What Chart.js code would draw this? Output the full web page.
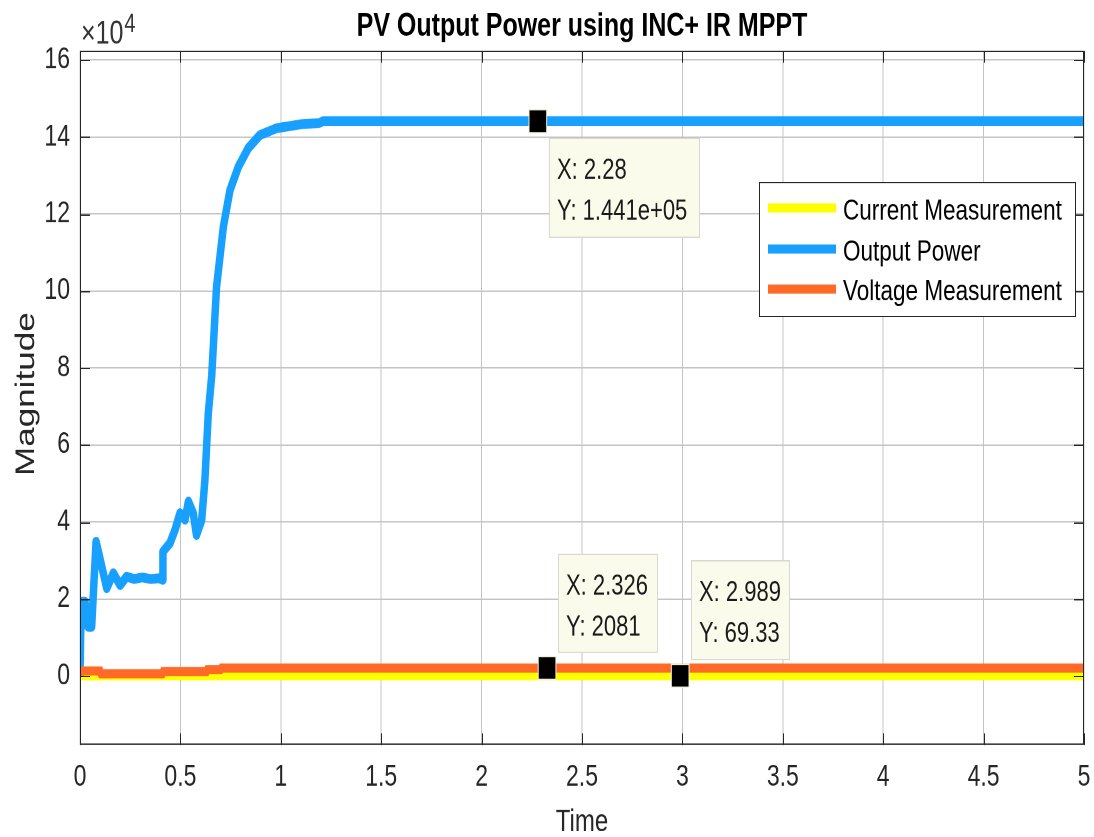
<!DOCTYPE html>
<html><head><meta charset="utf-8">
<script src="https://cdn.jsdelivr.net/npm/chart.js@4/dist/chart.umd.min.js"></script>
<style>
html,body{margin:0;padding:0;background:#fff;overflow:hidden;width:1094px;height:837px;}
#wrap{position:absolute;left:0;top:0;width:1094px;height:644px;transform:scaleY(1.29969);transform-origin:0 0;}
canvas{display:block;}
</style></head><body>
<div id="wrap"><canvas id="c" width="1094" height="644" style="width:1094px;height:644px"></canvas></div>
<script>
// ---- data ----
const chartTitle = 'PV Output Power using INC+ IR MPPT';
const xAxisTitle = 'Time';
const yAxisTitle = 'Magnitude';
const yExponentBase = '\u00d710';
const yExponent = '4';
const xTicks = [0, 0.5, 1, 1.5, 2, 2.5, 3, 3.5, 4, 4.5, 5];
const yTicks = [0, 20000, 40000, 60000, 80000, 100000, 120000, 140000, 160000];
const yMin = -17920, yMax = 162340;
const seriesNames = ['Current Measurement', 'Output Power', 'Voltage Measurement'];
const seriesColors = ['#ffff00', '#18a0ff', '#ff6a28'];

const powerT = [0, 0.006, 0.025, 0.04, 0.058, 0.08, 0.133, 0.166, 0.2, 0.232, 0.27, 0.31, 0.35, 0.395, 0.41, 0.413, 0.448, 0.473, 0.498, 0.523, 0.54, 0.564, 0.58, 0.606, 0.622, 0.639, 0.656, 0.68, 0.714, 0.747, 0.789, 0.838, 0.896, 0.98, 1.11, 1.19, 1.21, 1.6, 2.0, 2.28, 2.5, 3.0, 3.5, 4.0, 4.5, 5.0];
const powerV = [0, 19300, 19300, 12800, 12800, 34900, 22800, 26700, 23600, 25800, 25200, 25600, 25200, 25400, 25000, 32300, 34500, 37900, 42300, 40600, 45300, 42300, 36600, 40500, 50900, 68300, 78000, 101100, 116700, 126200, 132300, 137100, 140500, 142300, 143400, 143600, 144100, 144100, 144100, 144100, 144100, 144100, 144100, 144100, 144100, 144100];

const voltT = [0, 0.008, 0.1, 0.105, 0.41, 0.415, 0.63, 0.635, 0.7, 0.705, 2.326, 5];
const voltV = [300, 1300, 1300, 600, 600, 1200, 1200, 1700, 1700, 2081, 2081, 2081];

const currT = [0, 0.1, 0.4, 0.7, 2.989, 5];
const currV = [20, 30, 40, 69.33, 69.33, 69.33];

const tipX = [2.28, 2.326, 2.989];
const tipY = [144100, 2081, 69.33];

// ---- helpers ----
const FONT = '"Liberation Sans", Arial, Helvetica, sans-serif';
const pts = (xs, ys) => xs.map((x, i) => ({x: x, y: ys[i]}));
function fmtY(v) {
  if (Math.abs(v) >= 1e5) return v.toExponential(3).replace(/e([+-])(\d)$/, 'e$10$2');
  return String(v);
}
const tipLayout = [
  {dx: 11.5, dy: 12.3, w: 150, h: 76},
  {dx: 10.7, dy: -87.7, w: 99, h: 75.4},
  {dx: 10.5, dy: -88.5, w: 98, h: 76}
];

const decor = {
  id: 'decor',
  afterDatasetsDraw(chart) {
    const ctx = chart.ctx, a = chart.chartArea, xs = chart.scales.x, ys = chart.scales.y;
    ctx.save();
    // axes box
    ctx.strokeStyle = '#262626'; ctx.lineWidth = 1;
    ctx.strokeRect(Math.round(a.left) + 0.5, Math.round(a.top) + 0.5, Math.round(a.right - a.left) - 1, Math.round(a.bottom - a.top) - 1);
    // inward ticks
    ctx.beginPath();
    xTicks.forEach(v => {
      const px = Math.round(xs.getPixelForValue(v)) + 0.5;
      ctx.moveTo(px, a.bottom); ctx.lineTo(px, a.bottom - 9);
      ctx.moveTo(px, a.top); ctx.lineTo(px, a.top + 9);
    });
    yTicks.forEach(v => {
      const py = Math.round(ys.getPixelForValue(v)) + 0.5;
      ctx.moveTo(a.left, py); ctx.lineTo(a.left + 10, py);
      ctx.moveTo(a.right, py); ctx.lineTo(a.right - 10, py);
    });
    ctx.stroke();

    // legend box
    const lx = 759.5, ly = 140.5, lw = 316, lh = 103;
    ctx.fillStyle = '#ffffff';
    ctx.fillRect(lx, ly, lw, lh);
    ctx.strokeStyle = '#262626';
    ctx.strokeRect(lx, ly, lw, lh);
    const rowY = [160, 191.6, 222.4];
    ctx.font = '22.5px ' + FONT;
    ctx.textBaseline = 'alphabetic'; ctx.textAlign = 'left';
    for (let i = 0; i < 3; i++) {
      const ds = chart.data.datasets[i];
      ctx.strokeStyle = ds.borderColor; ctx.lineWidth = 7;
      ctx.beginPath(); ctx.moveTo(768, rowY[i]); ctx.lineTo(836, rowY[i]); ctx.stroke();
      ctx.fillStyle = '#000000';
      ctx.fillText(ds.label, 843, rowY[i] + 8.8);
    }

    // data tips
    ctx.font = '22px ' + FONT;
    for (let i = 0; i < tipX.length; i++) {
      const px = xs.getPixelForValue(tipX[i]), py = ys.getPixelForValue(tipY[i]);
      const L = tipLayout[i];
      const bx = Math.round(px + L.dx) + 0.5, by = Math.round(py + L.dy) + 0.5;
      ctx.fillStyle = '#fbfbec';
      ctx.fillRect(bx, by, L.w, L.h);
      ctx.strokeStyle = '#d9d9cf'; ctx.lineWidth = 1;
      ctx.strokeRect(bx, by, L.w, L.h);
      ctx.fillStyle = '#1a1a1a';
      ctx.fillText('X: ' + tipX[i], bx + 7.5, by + 31);
      ctx.fillText('Y: ' + fmtY(tipY[i]), bx + 7.5, by + 62.5);
    }
    ctx.restore();
  },
  afterDraw(chart) {
    const ctx = chart.ctx, a = chart.chartArea;
    ctx.save();
    ctx.fillStyle = '#000000';
    ctx.textAlign = 'center'; ctx.textBaseline = 'alphabetic';
    ctx.font = 'bold 25px ' + FONT;
    ctx.fillText(chartTitle, (a.left + a.right) / 2, 27.7);
    // exponent
    ctx.fillStyle = '#333333';
    ctx.textAlign = 'left';
    ctx.font = '25px ' + FONT;
    ctx.fillText(yExponentBase, a.left + 1, 33.5);
    const w = ctx.measureText(yExponentBase).width;
    ctx.font = '20px ' + FONT;
    ctx.fillText(yExponent, a.left + 1 + w + 1, 24.4);
    // x title
    ctx.fillStyle = '#262626';
    ctx.textAlign = 'center';
    ctx.font = '24px ' + FONT;
    ctx.fillText(xAxisTitle, (a.left + a.right) / 2, 639.5);
    // y title
    ctx.translate(34, (a.top + a.bottom) / 2 - 3);
    ctx.rotate(-Math.PI / 2);
    ctx.font = '27px ' + FONT;
    ctx.fillText(yAxisTitle, 0, 0);
    ctx.restore();
  }
};

const tickFont = {family: FONT, size: 23};
new Chart(document.getElementById('c'), {
  type: 'line',
  data: {
    datasets: [
      {label: seriesNames[0], data: pts(currT, currV), borderColor: seriesColors[0], backgroundColor: seriesColors[0], borderWidth: 7, pointRadius: 0, tension: 0, order: 3},
      {label: seriesNames[1], data: pts(powerT, powerV), borderColor: seriesColors[1], backgroundColor: seriesColors[1], borderWidth: 7.5, pointRadius: 0, tension: 0, order: 2, borderJoinStyle: 'round'},
      {label: seriesNames[2], data: pts(voltT, voltV), borderColor: seriesColors[2], backgroundColor: seriesColors[2], borderWidth: 7, pointRadius: 0, tension: 0, order: 1},
      {type: 'scatter', label: 'datatips', data: pts(tipX, tipY), pointStyle: 'rect', pointRadius: 12.5, backgroundColor: '#000000', borderColor: '#f0f0d6', borderWidth: 1, showLine: false, order: 0}
    ]
  },
  options: {
    responsive: false,
    devicePixelRatio: 2,
    animation: false,
    events: [],
    layout: {autoPadding: false, padding: {top: 39.24, right: 10, left: 0, bottom: 0}},
    plugins: {legend: {display: false}, tooltip: {enabled: false}, title: {display: false}},
    scales: {
      x: {
        type: 'linear', min: 0, max: 5,
        afterBuildTicks: s => { s.ticks = xTicks.map(v => ({value: v})); },
        afterFit: s => { s.height = 70.8; s.paddingRight = 0; s.paddingLeft = 0; },
        ticks: {font: tickFont, color: '#262626', padding: 11, maxRotation: 0, autoSkip: false, callback: v => String(v)},
        grid: {color: '#c4c4c4', lineWidth: 1, drawTicks: false},
        border: {display: false}
      },
      y: {
        type: 'linear', min: yMin, max: yMax,
        afterBuildTicks: s => { s.ticks = yTicks.map(v => ({value: v})); },
        afterFit: s => { s.width = 80; s.paddingTop = 0; s.paddingBottom = 0; },
        ticks: {font: tickFont, color: '#262626', padding: 10, autoSkip: false, callback: v => String(v / 10000)},
        grid: {color: '#c4c4c4', lineWidth: 1, drawTicks: false},
        border: {display: false}
      }
    }
  },
  plugins: [decor]
});
</script>
</body></html>
